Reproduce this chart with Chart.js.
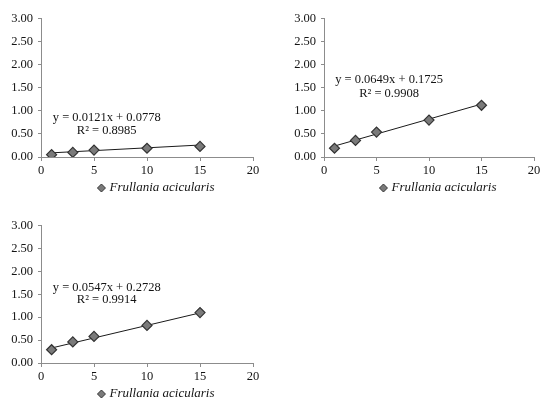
<!DOCTYPE html>
<html lang="en">
<head>
    <meta charset="UTF-8">
    <title>Frullania acicularis</title>
    <script src="https://cdn.jsdelivr.net/npm/chart.js"></script>
    <style>
        body {
            margin: 0;
            width: 550px;
            height: 406px;
            background: #fff;
            position: relative;
            overflow: hidden;
        }
        .box { position: absolute; }
    </style>
</head>
<body>
    <div class="box" id="b1"><canvas id="c1"></canvas></div>
    <div class="box" id="b2"><canvas id="c2"></canvas></div>
    <div class="box" id="b3"><canvas id="c3"></canvas></div>

    <script>
        const concentrations = [1, 3, 5, 10, 15];
        const seriesName = 'Frullania acicularis';

        const values1 = [0.05, 0.10, 0.15, 0.19, 0.23];
        const values2 = [0.19, 0.36, 0.54, 0.80, 1.12];
        const values3 = [0.29, 0.46, 0.58, 0.82, 1.10];

        const slopes = [0.0121, 0.0649, 0.0547];
        const intercepts = [0.0778, 0.1725, 0.2728];
        const rSquared = ['0.8985', '0.9908', '0.9914'];

        const yTicks = [0, 0.5, 1, 1.5, 2, 2.5, 3];
        const xTicks = [0, 5, 10, 15, 20];

        const serif = '"Liberation Serif", "DejaVu Serif", serif';
        const ink = '#141414';

        // equation label + legend, drawn onto the canvas after the chart
        const labelPlugin = {
            id: 'labels',
            afterDraw(chart) {
                const o = chart.options.plugins.labels;
                const ctx = chart.ctx;
                const xs = chart.scales.x, ys = chart.scales.y;
                const area = chart.chartArea;
                ctx.save();
                ctx.fillStyle = ink;
                ctx.textAlign = 'center';
                ctx.textBaseline = 'middle';
                ctx.font = '12.5px ' + serif;
                const cx = xs.getPixelForValue(o.at[0]);
                ctx.fillText(o.eq, cx, ys.getPixelForValue(o.at[1]));
                ctx.fillText(o.r2, cx, ys.getPixelForValue(o.at[2]));

                // legend
                ctx.font = 'italic 13px ' + serif;
                const w = ctx.measureText(seriesName).width;
                const mid = (area.left + area.right) / 2 + 10;
                const ly = area.bottom + 31;
                const tx = mid - w / 2 + 5;
                ctx.textAlign = 'left';
                ctx.fillText(seriesName, tx, ly);
                const dx = tx - 8;
                ctx.beginPath();
                ctx.moveTo(dx, ly - 4);
                ctx.lineTo(dx + 4, ly);
                ctx.lineTo(dx, ly + 4);
                ctx.lineTo(dx - 4, ly);
                ctx.closePath();
                ctx.fillStyle = '#7a7a7a';
                ctx.fill();
                ctx.strokeStyle = '#333';
                ctx.lineWidth = 1;
                ctx.stroke();
                ctx.restore();
            }
        };

        function makeChart(id, boxId, area, values, idx, at) {
            const box = document.getElementById(boxId);
            const padTop = 10, padRight = 10, yw = 41, xh = 42;
            box.style.left = (area[0] - yw) + 'px';
            box.style.top = (area[1] - padTop) + 'px';
            box.style.width = (area[2] - area[0] + yw + padRight) + 'px';
            box.style.height = (area[3] - area[1] + padTop + xh) + 'px';

            const pts = concentrations.map((c, i) => ({ x: c, y: values[i] }));
            const first = concentrations[0], last = concentrations[concentrations.length - 1];
            const trend = [first, last].map(c => ({ x: c, y: slopes[idx] * c + intercepts[idx] }));

            return new Chart(document.getElementById(id), {
                type: 'scatter',
                data: {
                    datasets: [{
                        label: seriesName,
                        data: pts,
                        pointStyle: 'rectRot',
                        pointRadius: 5,
                        pointBackgroundColor: '#7a7a7a',
                        pointBorderColor: '#333',
                        pointBorderWidth: 1.2
                    }, {
                        type: 'line',
                        label: 'trend',
                        data: trend,
                        borderColor: '#1a1a1a',
                        borderWidth: 1,
                        pointRadius: 0,
                        fill: false
                    }]
                },
                options: {
                    responsive: true,
                    maintainAspectRatio: false,
                    animation: false,
                    layout: { padding: { top: padTop, right: padRight, left: 0, bottom: 0 } },
                    plugins: {
                        legend: { display: false },
                        tooltip: { enabled: false },
                        labels: {
                            eq: 'y = ' + slopes[idx] + 'x + ' + intercepts[idx],
                            r2: 'R\u00b2 = ' + rSquared[idx],
                            at: at
                        }
                    },
                    scales: {
                        x: {
                            type: 'linear',
                            min: 0, max: 20,
                            afterBuildTicks: s => { s.ticks = xTicks.map(v => ({ value: v })); },
                            afterFit: s => { s.height = xh; },
                            border: { color: '#8c8c8c', width: 1 },
                            grid: { drawOnChartArea: false, tickLength: 4, color: '#8c8c8c' },
                            ticks: { color: ink, font: { family: serif, size: 12.5 }, padding: 2, maxRotation: 0 }
                        },
                        y: {
                            min: 0, max: 3,
                            afterBuildTicks: s => { s.ticks = yTicks.map(v => ({ value: v })); },
                            afterFit: s => { s.width = yw; },
                            border: { color: '#8c8c8c', width: 1 },
                            grid: { drawOnChartArea: false, tickLength: 3, color: '#8c8c8c' },
                            ticks: {
                                color: ink, font: { family: serif, size: 12.5 }, padding: 5,
                                callback: v => Number(v).toFixed(2)
                            }
                        }
                    }
                },
                plugins: [labelPlugin]
            });
        }

        makeChart('c1', 'b1', [41, 16, 253, 157], values1, 0, [6.2, 0.86, 0.57]);
        makeChart('c2', 'b2', [324, 16, 534, 157], values2, 1, [6.2, 1.68, 1.38]);
        makeChart('c3', 'b3', [41, 223, 253, 363], values3, 2, [6.2, 1.65, 1.37]);
    </script>
</body>
</html>
